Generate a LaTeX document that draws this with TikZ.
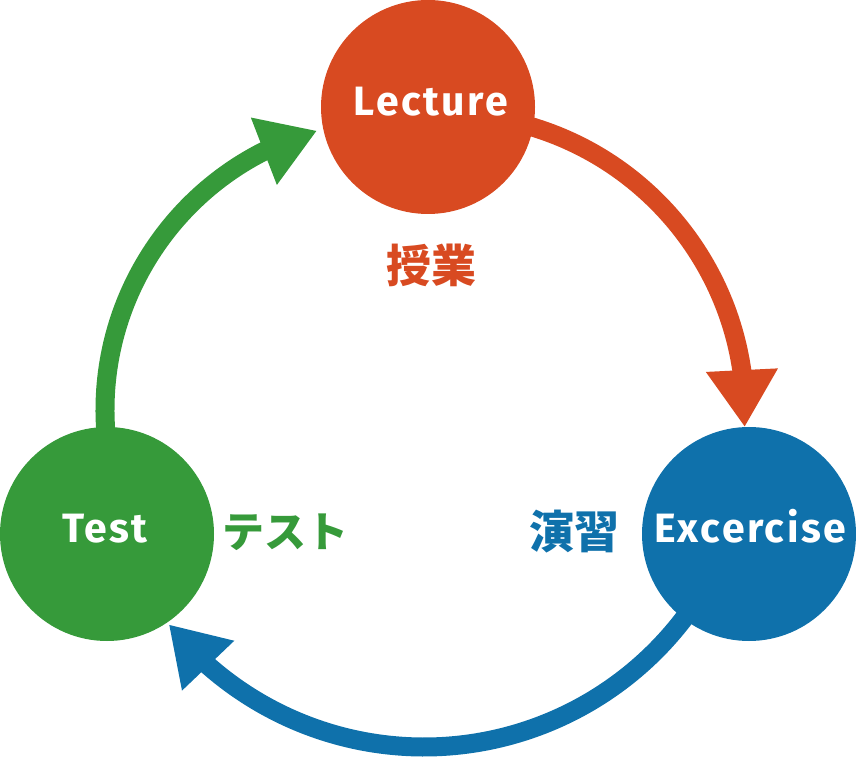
\documentclass[tikz,border=0pt]{standalone}
\usepackage{fontspec}
\setmainfont{Fira Sans}
\newfontfamily\latinlab[LetterSpace=6]{Fira Sans}
\newfontfamily\jpfont{Noto Sans CJK JP}
\usetikzlibrary{arrows.meta,bending}
\definecolor{cred}{HTML}{D84A21}
\definecolor{cgreen}{HTML}{369A3A}
\definecolor{cblue}{HTML}{0F71AB}
\begin{document}
\begin{tikzpicture}[x=1pt,y=1pt,
  cyc/.style={circle, minimum size=214pt, inner sep=0pt, draw=none},
  arr/.style={line width=19pt, -{Triangle[length=57pt,width=68pt,flex]}},
  lab/.style={text=white, font=\latinlab\fontsize{41}{44}\selectfont\bfseries, anchor=base, inner sep=0pt},
  jlab/.style={font=\jpfont\bfseries\fontsize{45}{50}\selectfont, inner sep=0pt}]
\useasboundingbox (0,0) rectangle (856,758);
\coordinate (cR) at (445,344);
\coordinate (cG) at (395,348);
\coordinate (cB) at (424,338);
\draw[arr, cred] ([shift={(76:300)}]cR) arc[start angle=76, end angle=-2.5, radius=300];
\draw[arr, cgreen] ([shift={(186:290)}]cG) arc[start angle=186, end angle=105.6, radius=290];
\draw[arr, cblue] ([shift={(-36:327)}]cB) arc[start angle=-36, end angle=-141.3, radius=327];
\node[cyc, fill=cred] (lec) at (428,651) {};
\node[cyc, fill=cgreen] (tst) at (107,224) {};
\node[cyc, fill=cblue] (exc) at (749,224) {};
\node[lab] (lect) at ([xshift=3pt,yshift=-9pt]lec.center) {Lecture};
\node[lab] (tstt) at ([xshift=-2pt,yshift=-8pt]tst.center) {Test};
\node[lab] (exct) at ([xshift=1pt,yshift=-8pt]exc.center) {Excercise};
\node[jlab, text=cred] (jl) at (431,493) {授業};
\node[jlab, text=cgreen, font=\jpfont\bfseries\fontsize{42}{48}\selectfont] (jt) at (285,226) {テスト};
\node[jlab, text=cblue] (je) at (574,226) {演習};
\end{tikzpicture}
\end{document}
